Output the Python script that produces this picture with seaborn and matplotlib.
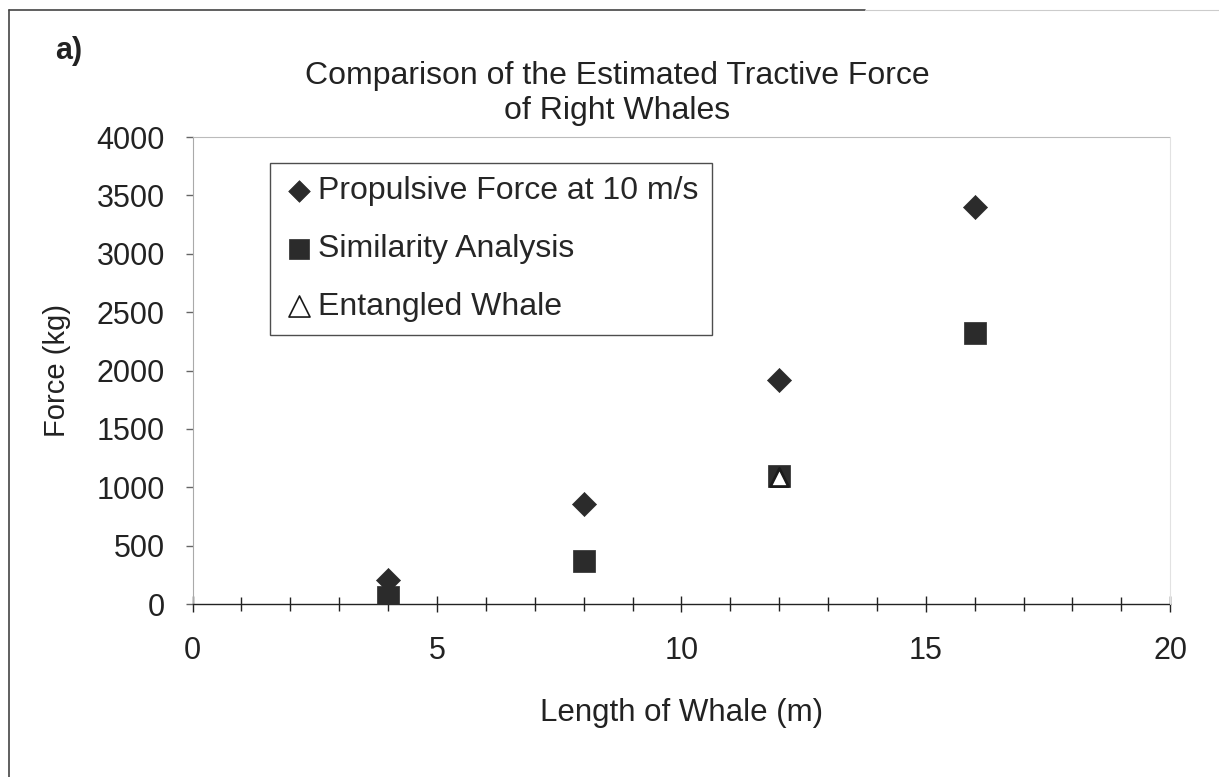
import matplotlib
matplotlib.use('Agg')
import matplotlib.pyplot as plt
import seaborn as sns
import pandas as pd
from matplotlib.lines import Line2D

# Data
lengths = [4, 8, 12, 16]
propulsive_force = [205, 860, 1920, 3400]
similarity_force = [60, 370, 1095, 2320]
entangled_length = [12]
entangled_force = [1090]

sns.set_theme(style='white')
plt.rcParams['font.family'] = ['Liberation Sans', 'DejaVu Sans']

df_prop = pd.DataFrame({'length': lengths, 'force': propulsive_force})
df_sim = pd.DataFrame({'length': lengths, 'force': similarity_force})
df_ent = pd.DataFrame({'length': entangled_length, 'force': entangled_force})

fig = plt.figure(figsize=(12.19, 7.77), dpi=100)
ax = fig.add_axes([0.158, 0.2226, 0.802, 0.601])

sns.scatterplot(data=df_prop, x='length', y='force', marker='D', s=150,
                color='#2b2b2b', edgecolor='#2b2b2b', linewidth=0.5,
                label='Propulsive Force at 10 m/s', ax=ax, zorder=3)
sns.scatterplot(data=df_sim, x='length', y='force', marker='s', s=260,
                color='#2b2b2b', edgecolor='#2b2b2b', linewidth=0.5,
                label='Similarity Analysis', ax=ax, zorder=3)
sns.scatterplot(data=df_ent, x='length', y='force', marker='^', s=170,
                color='white', edgecolor='#1a1a1a', linewidth=2,
                label='Entangled Whale', ax=ax, zorder=4)

ax.set_xlim(0, 20)
ax.set_ylim(0, 4000)
ax.set_xticks([0, 5, 10, 15, 20])
ax.set_xticks(range(0, 21), minor=True)
ax.set_yticks(range(0, 4001, 500))

for side in ['top', 'right']:
    ax.spines[side].set_visible(False)
ax.spines['left'].set_color('#aaaaaa')
ax.spines['left'].set_linewidth(0.8)
ax.spines['bottom'].set_color('#222222')
ax.spines['bottom'].set_linewidth(1.0)

ax.tick_params(axis='x', which='both', direction='inout', length=12, width=1,
               color='#222222', labelsize=22, labelcolor='#222222', pad=17)
ax.tick_params(axis='x', which='minor', length=10)
ax.tick_params(axis='y', which='major', direction='out', length=5, width=1,
               color='#666666', labelsize=22, labelcolor='#222222', pad=15)
ax.tick_params(bottom=True, left=True, which='both')
ax.tick_params(axis='y', which='minor', left=False)

ax.set_xlabel('Length of Whale (m)', fontsize=22.5, color='#222222', labelpad=23)
ax.set_ylabel('Force (kg)', fontsize=21, color='#222222', labelpad=18)

fig.text(0.5066, 0.902, 'Comparison of the Estimated Tractive Force',
         ha='center', va='center', fontsize=23, color='#222222')
fig.text(0.5066, 0.857, 'of Right Whales',
         ha='center', va='center', fontsize=23, color='#222222')
fig.text(0.045, 0.934, 'a)', ha='left', va='center', fontsize=22,
         fontweight='bold', color='#222222')

leg = ax.legend(loc='upper left', bbox_to_anchor=(0.079, 0.945), fontsize=23,
                frameon=True, fancybox=False, edgecolor='#222222',
                handletextpad=0.1, handlelength=1.0, labelspacing=0.87,
                borderpad=0.42, markerscale=0.9, borderaxespad=0)
leg.get_frame().set_linewidth(1.0)
leg.get_frame().set_facecolor('white')
tri = leg.legend_handles[2]
tri.set_sizes([230])
tri.set_linewidth(1.2)

# Chart area border (top and left visible on the scan)
fig.add_artist(Line2D([0.007, 0.71], [0.987, 0.987], color='#444444', lw=1.2))
fig.add_artist(Line2D([0.71, 1.0], [0.987, 0.987], color='#cccccc', lw=0.8))
fig.add_artist(Line2D([0.007, 0.007], [0.0, 0.987], color='#444444', lw=1.2))
# Plot area top and right edges (faint on the scan)
fig.add_artist(Line2D([0.158, 0.96], [0.824, 0.824], color='#bbbbbb', lw=0.8))
fig.add_artist(Line2D([0.96, 0.96], [0.2226, 0.824], color='#e2e2e2', lw=0.8))

fig.savefig('out.png', dpi=100)
plt.close(fig)
